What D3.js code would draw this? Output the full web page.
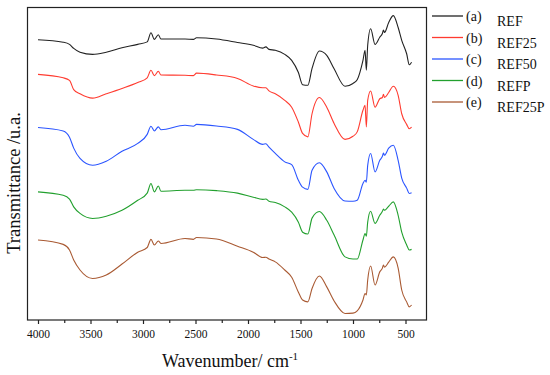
<!DOCTYPE html>
<html>
<head>
<meta charset="utf-8">
<script src="https://cdn.jsdelivr.net/npm/d3@7"></script>
<style>
  body { margin: 0; background: #fff; }
  svg text { font-family: "Liberation Serif", "Times New Roman", serif; fill: #111; }
</style>
</head>
<body>
<svg id="chart"></svg>
<script>
// wavenumbers (cm-1), shared by all spectra
var wavenumbers = [4000, 3760, 3700, 3660, 3600, 3480, 3350, 3200, 3050, 2960, 2924, 2892, 2854, 2829,
  2600, 2520, 2490, 2300, 2100, 1950, 1860, 1830, 1800, 1740, 1650, 1584, 1520, 1480, 1430, 1390,
  1320, 1250, 1180, 1076, 1000, 960, 905, 885, 873, 860, 832, 790, 745, 720, 710, 700, 660, 616,
  570, 536, 489, 464, 442];

// offset transmittance (a.u.)
var ref = [89.7, 88.9, 88.2, 86.9, 85.7, 85.0, 85.7, 87.1, 88.2, 89.0, 91.9, 89.8, 91.3, 89.9,
  89.9, 89.8, 90.3, 89.9, 88.8, 87.9, 87.0, 87.4, 86.6, 86.3, 85.0, 83.1, 79.2, 75.3, 75.1, 80.5,
  86.1, 84.7, 80.4, 74.8, 75.7, 76.9, 83.1, 86.3, 79.9, 87.9, 93.2, 88.2, 90.5, 91.7, 92.8, 92.0,
  95.2, 97.4, 93.6, 89.5, 85.2, 81.7, 82.5];
var ref25 = [78.6, 77.5, 76.7, 73.7, 72.4, 71.0, 72.4, 74.1, 76.0, 77.5, 79.9, 78.2, 79.6, 78.4,
  78.3, 78.2, 79.0, 78.4, 77.3, 74.9, 74.3, 74.3, 73.3, 72.4, 70.3, 68.1, 63.3, 59.7, 58.6, 66.0,
  71.2, 68.1, 62.9, 57.8, 58.8, 60.2, 67.1, 68.7, 61.8, 70.3, 73.3, 68.1, 70.8, 71.2, 72.2, 71.2,
  72.8, 74.8, 71.9, 66.0, 62.6, 61.2, 61.7];
var ref50 = [61.6, 60.5, 58.5, 55.0, 51.7, 49.5, 50.8, 54.0, 56.5, 59.4, 62.0, 60.5, 61.8, 60.9,
  62.3, 62.0, 62.6, 62.1, 61.0, 57.8, 56.2, 56.4, 55.3, 53.3, 50.6, 49.7, 44.7, 42.5, 41.8, 47.9,
  50.3, 47.4, 42.1, 38.1, 38.0, 38.3, 43.7, 44.7, 44.1, 49.5, 53.3, 47.4, 51.1, 52.4, 53.4, 52.7,
  55.0, 55.9, 51.1, 45.4, 42.2, 40.5, 40.7];
var refP = [41.0, 39.9, 38.7, 36.2, 34.1, 32.5, 33.2, 35.1, 38.3, 40.6, 43.7, 41.0, 42.9, 41.2,
  41.5, 41.5, 41.7, 41.4, 40.6, 39.3, 38.6, 38.7, 38.0, 37.6, 36.2, 34.5, 31.3, 28.1, 27.5, 32.6,
  34.7, 31.9, 27.2, 20.2, 19.5, 19.5, 25.6, 27.7, 26.8, 31.3, 34.8, 30.9, 33.5, 34.8, 35.5, 35.1,
  36.4, 37.8, 33.5, 28.1, 24.0, 22.4, 22.6];
var ref25P = [25.6, 24.2, 22.4, 19.2, 16.0, 13.3, 14.4, 17.9, 21.7, 23.2, 25.8, 24.0, 25.3, 24.5,
  26.1, 25.8, 26.4, 25.9, 23.6, 21.7, 20.0, 20.1, 19.5, 18.6, 16.0, 13.7, 8.9, 6.4, 5.8, 10.1,
  14.1, 10.6, 6.1, 2.1, 2.2, 2.9, 6.4, 8.5, 8.0, 12.8, 17.3, 11.2, 15.4, 16.6, 17.6, 16.9,
  18.5, 20.2, 16.6, 9.6, 5.8, 4.2, 4.8];

var seriesNames = ["REF", "REF25", "REF50", "REFP", "REF25P"];
var seriesTags = ["(a)", "(b)", "(c)", "(d)", "(e)"];
var seriesColors = ["#222222", "#ff3b30", "#2b55ff", "#22a02e", "#a95a33"];
var seriesValues = [ref, ref25, ref50, refP, ref25P];
var majorTicks = [4000, 3500, 3000, 2500, 2000, 1500, 1000, 500];
var minorTicks = [3750, 3250, 2750, 2250, 1750, 1250, 750];

var width = 550, height = 375;
var plot = { left: 27.5, right: 426.5, top: 7.5, bottom: 320 };

var svg = d3.select("#chart")
  .attr("width", width)
  .attr("height", height);

var x = d3.scaleLinear()
  .domain([4100, 300])
  .range([plot.left, plot.right]);

var y = d3.scaleLinear()
  .domain([0, 100])
  .range([plot.bottom, plot.top]);

// minor ticks
svg.append("g")
  .attr("transform", `translate(0, ${plot.bottom})`)
  .call(d3.axisBottom(x).tickValues(minorTicks).tickSize(3).tickFormat(""))
  .call(g => g.select(".domain").remove())
  .call(g => g.selectAll("line").attr("stroke", "#222").attr("stroke-width", 1.2));

// major ticks
svg.append("g")
  .attr("transform", `translate(0, ${plot.bottom})`)
  .call(d3.axisBottom(x).tickValues(majorTicks).tickSize(4).tickPadding(6).tickFormat(d3.format("d")))
  .call(g => g.select(".domain").remove())
  .call(g => g.selectAll("line").attr("stroke", "#222").attr("stroke-width", 1.2))
  .call(g => g.selectAll("text")
    .attr("font-family", "Liberation Serif")
    .attr("font-size", 11.5)
    .attr("fill", "#111"));

// frame
svg.append("rect")
  .attr("x", plot.left)
  .attr("y", plot.top)
  .attr("width", plot.right - plot.left)
  .attr("height", plot.bottom - plot.top)
  .attr("fill", "none")
  .attr("stroke", "#222")
  .attr("stroke-width", 1.2);

var line = d3.line()
  .x((d, i) => x(wavenumbers[i]))
  .y(d => y(d))
  .curve(d3.curveMonotoneX);

svg.selectAll("path.spectrum")
  .data(seriesValues)
  .enter()
  .append("path")
  .attr("class", "spectrum")
  .attr("fill", "none")
  .attr("stroke", (d, i) => seriesColors[i])
  .attr("stroke-width", 1.1)
  .attr("d", line);

// axis titles
var xTitle = svg.append("text")
  .attr("x", (plot.left + plot.right) / 2 + 3)
  .attr("y", 367)
  .attr("text-anchor", "middle")
  .attr("font-size", 18);
xTitle.append("tspan").text("Wavenumber/ cm");
xTitle.append("tspan").attr("font-size", 11).attr("dy", -7).text("-1");

svg.append("text")
  .attr("transform", "translate(20, 183) rotate(-90)")
  .attr("text-anchor", "middle")
  .attr("font-size", 18.5)
  .text("Transmittance /u.a.");

// legend
var legend = svg.selectAll("g.legend")
  .data(seriesNames)
  .enter()
  .append("g")
  .attr("class", "legend")
  .attr("transform", (d, i) => `translate(432, ${16 + i * 21.5})`);

legend.append("line")
  .attr("x1", 0).attr("x2", 31)
  .attr("stroke", (d, i) => seriesColors[i])
  .attr("stroke-width", 1.3);

legend.append("text")
  .attr("x", 34)
  .attr("y", 5)
  .attr("font-size", 14)
  .text((d, i) => seriesTags[i]);

legend.append("text")
  .attr("x", 65)
  .attr("y", 10)
  .attr("font-size", 14)
  .text(d => d);
</script>
</body>
</html>
